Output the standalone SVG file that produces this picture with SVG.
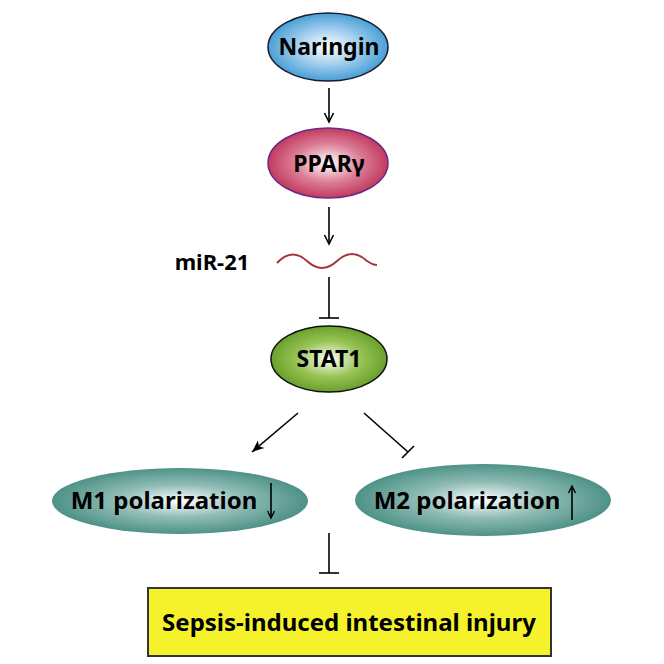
<svg xmlns="http://www.w3.org/2000/svg" width="664" height="664" viewBox="0 0 664 664">
<style>
  .lbl { font-family: "Noto Sans", "Open Sans", "Liberation Sans", sans-serif; font-weight: bold; fill: #000; text-anchor: middle; }
  .conn { stroke: #000; stroke-width: 1.6; fill: none; }
</style>
<defs>
  <radialGradient id="gBlue" cx="50%" cy="50%" r="50%">
    <stop offset="0" stop-color="#ffffff"/>
    <stop offset="0.55" stop-color="#9cccec"/>
    <stop offset="1" stop-color="#4a9fd6"/>
  </radialGradient>
  <radialGradient id="gRed" cx="50%" cy="50%" r="50%">
    <stop offset="0" stop-color="#ffffff"/>
    <stop offset="0.55" stop-color="#dc7f98"/>
    <stop offset="1" stop-color="#c23a5f"/>
  </radialGradient>
  <radialGradient id="gGreen" cx="50%" cy="50%" r="50%">
    <stop offset="0" stop-color="#ffffff"/>
    <stop offset="0.55" stop-color="#98c455"/>
    <stop offset="1" stop-color="#6aa02c"/>
  </radialGradient>
  <radialGradient id="gTeal" cx="50%" cy="50%" r="50%">
    <stop offset="0" stop-color="#ffffff"/>
    <stop offset="0.5" stop-color="#8fbcb5"/>
    <stop offset="1" stop-color="#4e9287"/>
  </radialGradient>
  <marker id="arr" markerUnits="userSpaceOnUse" markerWidth="12" markerHeight="12" refX="10" refY="6" orient="auto">
    <path d="M1,1.5 L10,6 L1,10.5" fill="none" stroke="#000" stroke-width="1.6"/>
  </marker>
  <marker id="arrF" markerUnits="userSpaceOnUse" markerWidth="14" markerHeight="12" refX="12" refY="6" orient="auto">
    <path d="M0,1 L12,6 L0,11 L3,6 Z" fill="#000"/>
  </marker>
  <marker id="arrS" markerUnits="userSpaceOnUse" markerWidth="10" markerHeight="10" refX="8" refY="5" orient="auto">
    <path d="M1,1.5 L8,5 L1,8.5" fill="none" stroke="#000" stroke-width="1.4"/>
  </marker>
</defs>

<g id="connectors">
  <line class="conn" x1="329" y1="88" x2="329" y2="122" marker-end="url(#arr)"/>
  <line class="conn" x1="329" y1="207" x2="329" y2="244" marker-end="url(#arr)"/>
  <line class="conn" x1="329" y1="277" x2="329" y2="318"/>
  <line class="conn" x1="319" y1="318" x2="339" y2="318"/>
  <line class="conn" x1="298" y1="413" x2="252" y2="452" marker-end="url(#arrF)"/>
  <line class="conn" x1="364" y1="413" x2="408" y2="452"/>
  <line class="conn" x1="402" y1="458" x2="414" y2="446"/>
  <line class="conn" x1="329" y1="533" x2="329" y2="573"/>
  <line class="conn" x1="319" y1="573" x2="339" y2="573"/>
</g>

<g id="naringin">
  <ellipse cx="328" cy="47" rx="60" ry="34" fill="url(#gBlue)" stroke="#1a1a2e" stroke-width="1.5"/>
  <text class="lbl" x="329" y="55" font-size="23">Naringin</text>
</g>

<g id="ppar">
  <ellipse cx="328" cy="163" rx="60" ry="35" fill="url(#gRed)" stroke="#6b2a86" stroke-width="1.5"/>
  <text class="lbl" x="329" y="172" font-size="23">PPARγ</text>
</g>

<g id="mir21">
  <path d="M277,263 Q292,247 307,261 T337,261 T367,261 C370,263 374,265 377,265" fill="none" stroke="#a8333a" stroke-width="2"/>
  <text class="lbl" x="212" y="270" font-size="22">miR-21</text>
</g>

<g id="stat1">
  <ellipse cx="329" cy="359" rx="58" ry="33" fill="url(#gGreen)" stroke="#111" stroke-width="1.5"/>
  <text class="lbl" x="329" y="367" font-size="23">STAT1</text>
</g>

<g id="m1">
  <ellipse cx="180" cy="501" rx="128" ry="33" fill="url(#gTeal)"/>
  <text class="lbl" x="164" y="509" font-size="24">M1 polarization</text>
  <line x1="271" y1="483" x2="271" y2="518" stroke="#000" stroke-width="1.6" marker-end="url(#arrS)"/>
</g>

<g id="m2">
  <ellipse cx="483" cy="500" rx="128" ry="36" fill="url(#gTeal)"/>
  <text class="lbl" x="467" y="509" font-size="24">M2 polarization</text>
  <line x1="572" y1="520" x2="572" y2="486" stroke="#000" stroke-width="1.6" marker-end="url(#arrS)"/>
</g>

<g id="sepsis">
  <rect x="148" y="588" width="403" height="68" fill="#f5f22c" stroke="#333" stroke-width="2"/>
  <text class="lbl" x="349" y="631" font-size="24">Sepsis-induced intestinal injury</text>
</g>
</svg>
